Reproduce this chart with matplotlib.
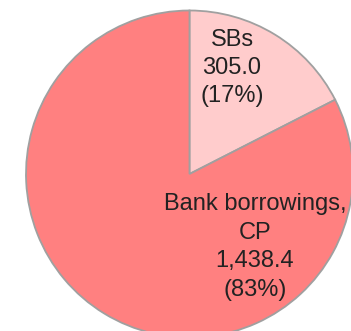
import matplotlib.pyplot as plt

plt.rcParams['font.family'] = ['Liberation Sans', 'DejaVu Sans']

# Funding sources
labels = ['SBs', 'Bank borrowings,\nCP']
values = [305.0, 1438.4]
colors = ['#ffcccc', '#ff8080']

total = sum(values)

fig = plt.figure(figsize=(3.51, 3.31), dpi=100)
ax = fig.add_axes([0, 0, 1, 1])

ax.pie(values, colors=colors, startangle=90, counterclock=False,
       center=(189.5, 157), radius=163.5, frame=True,
       wedgeprops=dict(edgecolor='#a0a0a0', linewidth=1.3))
ax.set_xlim(0, 351)
ax.set_ylim(0, 331)
ax.set_aspect('equal')
ax.axis('off')

# Label text placed inside each wedge
label_pos = [(232, 263), (255, 84)]
for (x, y), lab, v in zip(label_pos, labels, values):
    txt = f"{lab}\n{v:,.1f}\n({v / total:.0%})"
    ax.text(x, y, txt, ha='center', va='center', fontsize=17,
            color='#222222', linespacing=1.38)

plt.savefig('out.png', dpi=100)
